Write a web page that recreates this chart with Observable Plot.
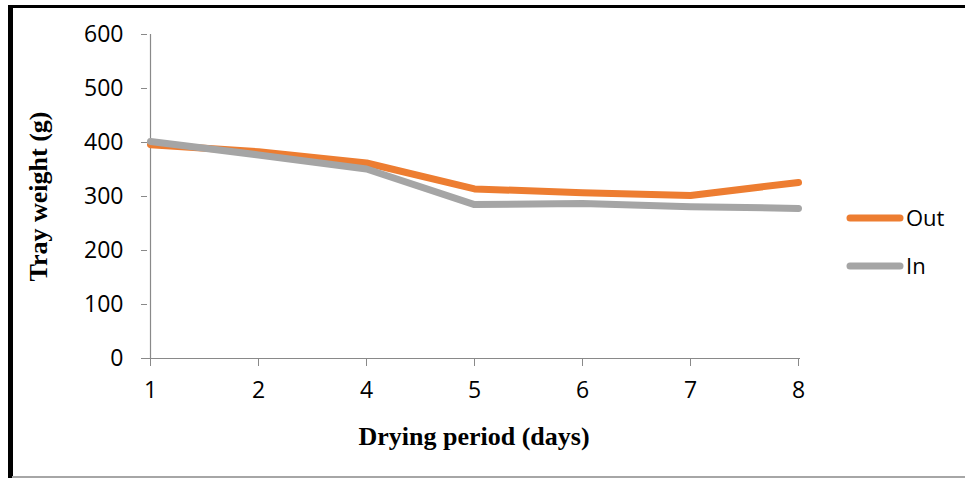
<!DOCTYPE html>
<html>
<head>
<meta charset="utf-8">
<script src="https://cdn.jsdelivr.net/npm/d3@7"></script>
<script src="https://cdn.jsdelivr.net/npm/@observablehq/plot@0.6"></script>
<style>
  html, body { margin: 0; padding: 0; background: #fff; }
  #wrap { position: relative; width: 965px; height: 478px; overflow: hidden; background: #fff; }
  #wrap svg { position: absolute; left: 0; top: 0; }
  .frame { position: absolute; }
</style>
</head>
<body>
<div id="wrap">
  <div class="frame" style="left:8px;top:5px;width:957px;height:2.5px;background:#000"></div>
  <div class="frame" style="left:8px;top:5px;width:4.5px;height:473px;background:#000"></div>
  <div class="frame" style="left:12px;top:476px;width:953px;height:2px;background:#a6a6a6"></div>
</div>
<script>
const days = ["1", "2", "4", "5", "6", "7", "8"];
const outValues = [396, 383, 362, 314, 307, 302, 326];
const inValues = [402, 377, 351, 285, 287, 281, 278];
const yTicks = [0, 100, 200, 300, 400, 500, 600];
const seriesNames = ["Out", "In"];
const seriesColors = ["#ED7D31", "#A5A5A5"];

const outData = days.map((d, i) => ({day: d, value: outValues[i]}));
const inData = days.map((d, i) => ({day: d, value: inValues[i]}));

const plot = Plot.plot({
  width: 965,
  height: 478,
  marginLeft: 147,
  marginRight: 165,
  marginTop: 34,
  marginBottom: 120,
  style: {fontFamily: "'Open Sans', sans-serif", fontSize: "24px", color: "#000", background: "transparent"},
  x: {type: "point", domain: days, padding: 0, label: null},
  y: {domain: [0, 600], label: null},
  marks: [
    Plot.ruleX([days[0]], {stroke: "#898989", strokeWidth: 1.2}),
    Plot.ruleY([0], {stroke: "#898989", strokeWidth: 1.2}),
    Plot.axisY({ticks: yTicks, tickSize: 6, tickPadding: 18, stroke: "#898989", fill: "#000", label: null, fontSize: 23}),
    Plot.axisX({tickSize: 8, tickPadding: 15, stroke: "#898989", fill: "#000", label: null, fontSize: 23}),
    Plot.line(outData, {x: "day", y: "value", stroke: seriesColors[0], strokeWidth: 7, strokeLinecap: "round", strokeLinejoin: "round"}),
    Plot.line(inData, {x: "day", y: "value", stroke: seriesColors[1], strokeWidth: 7, strokeLinecap: "round", strokeLinejoin: "round"}),
    Plot.text(["Drying period (days)"], {frameAnchor: "bottom", textAnchor: "middle", dy: 78, lineAnchor: "middle", fontFamily: "'Liberation Serif', serif", fontWeight: "bold", fontSize: 26, fill: "#000"}),
    Plot.text(["Tray weight (g)"], {frameAnchor: "left", textAnchor: "middle", dx: -109, rotate: -90, lineAnchor: "middle", fontFamily: "'Liberation Serif', serif", fontWeight: "bold", fontSize: 26, fill: "#000"})
  ]
});
document.getElementById("wrap").appendChild(plot);

// legend
const leg = d3.select("#wrap").append("svg")
  .attr("width", 965).attr("height", 478)
  .style("pointer-events", "none");
const legY = [218, 266];
seriesNames.forEach((name, i) => {
  leg.append("line")
    .attr("x1", 850).attr("x2", 900)
    .attr("y1", legY[i]).attr("y2", legY[i])
    .attr("stroke", seriesColors[i]).attr("stroke-width", 7).attr("stroke-linecap", "round");
  leg.append("text")
    .attr("x", 906).attr("y", legY[i]).attr("dy", "0.36em")
    .attr("font-family", "'Open Sans', sans-serif").attr("font-size", 22)
    .attr("fill", "#000")
    .text(name);
});
</script>
</body>
</html>
